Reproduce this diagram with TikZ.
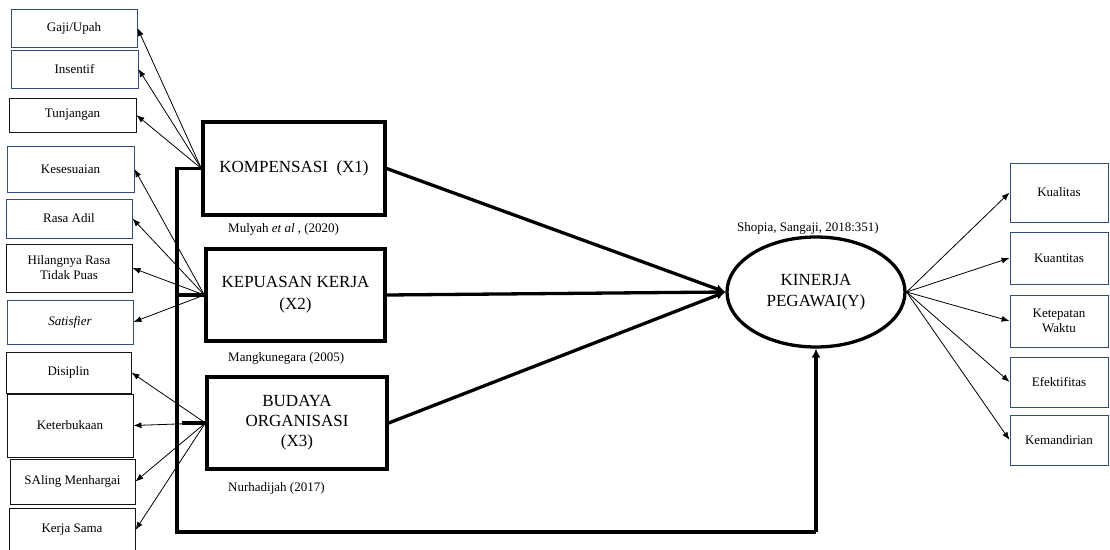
\documentclass[tikz,border=0pt]{standalone}
\usepackage{fontspec}
\setmainfont{Liberation Serif}
\usetikzlibrary{arrows.meta,shapes.geometric}
\definecolor{Navy}{RGB}{52,78,124}
\definecolor{Ink}{RGB}{20,20,20}
\tikzset{
  indik/.style={draw=Navy,line width=.9pt,fill=white,align=center,text=black,font=\fontsize{13}{15}\selectfont,inner sep=1pt},
  indikHitam/.style={indik,draw=Ink},
  konstruk/.style={draw=black,line width=3.3pt,fill=white,align=center,font=\fontsize{17}{20}\selectfont,inner sep=2pt},
  latent/.style={ellipse,draw=black,line width=3.3pt,fill=white,align=center,font=\fontsize{17}{21}\selectfont,inner sep=0pt},
  sumber/.style={font=\fontsize{13}{15}\selectfont,anchor=west,inner sep=0pt},
  panah/.style={-{Latex[length=8pt,width=6pt]},line width=.8pt,draw=black},
  tebal/.style={-{Latex[length=9pt,width=9pt]},line width=3.3pt,draw=black},
  garis/.style={line width=3.3pt,draw=black}
}
\begin{document}
\begin{tikzpicture}[x=1pt,y=-1pt]
  \useasboundingbox (0,0) rectangle (1110,549);
  % indikator kompensasi
  \node[indik,minimum width=126,minimum height=38] (gaji) at (74,28) {Gaji/Upah};
  \node[indik,minimum width=127,minimum height=38] (insentif) at (74.5,69) {Insentif};
  \node[indikHitam,minimum width=127,minimum height=34] (tunjangan) at (72.5,115) {Tunjangan};
  % indikator kepuasan kerja
  \node[indik,minimum width=127,minimum height=46] (sesuai) at (70.5,169) {Kesesuaian};
  \node[indik,minimum width=126,minimum height=39] (adil) at (69,218.5) {Rasa Adil};
  \node[indikHitam,minimum width=126,minimum height=48] (puas) at (69,268) {Hilangnya Rasa\\Tidak Puas};
  \node[indik,minimum width=126,minimum height=44] (satisfier) at (70,322) {\textit{Satisfier}};
  % indikator budaya organisasi
  \node[indikHitam,minimum width=125,minimum height=41] (disiplin) at (68.5,372.5) {Disiplin};
  \node[indikHitam,minimum width=126,minimum height=63] (terbuka) at (70,425.5) {Keterbukaan};
  \node[indikHitam,minimum width=125,minimum height=45] (hargai) at (72.5,481.5) {SAling Menhargai};
  \node[indikHitam,minimum width=126,minimum height=44] (kerjasama) at (72,530) {Kerja Sama};
  % konstruk
  \node[konstruk,minimum width=182,minimum height=93] (komp) at (294,168.5) {KOMPENSASI \ (X1)};
  \node[konstruk,minimum width=179,minimum height=92] (kepuasan) at (295.5,295) {KEPUASAN KERJA\\[2pt](X2)};
  \node[konstruk,minimum width=180,minimum height=92] (budaya) at (297,423) {BUDAYA\\ORGANISASI\\(X3)};
  \node[latent,minimum width=178,minimum height=110] (kinerja) at (816,292) {KINERJA\\PEGAWAI(Y)};
  \node[sumber] (s1) at (228,229) {Mulyah \textit{et al} , (2020)};
  \node[sumber] (s2) at (228,358) {Mangkunegara (2005)};
  \node[sumber] (s3) at (228,488) {Nurhadijah (2017)};
  \node[sumber] (s4) at (737,228) {Shopia, Sangaji, 2018:351)};
  % indikator kinerja
  \node[indik,minimum width=98,minimum height=59] (kualitas) at (1059,192.5) {Kualitas};
  \node[indik,minimum width=98,minimum height=52] (kuantitas) at (1059,258) {Kuantitas};
  \node[indik,minimum width=98,minimum height=52] (waktu) at (1059,321) {Ketepatan\\Waktu};
  \node[indik,minimum width=98,minimum height=50] (efektif) at (1059,382) {Efektifitas};
  \node[indik,minimum width=98,minimum height=50] (mandiri) at (1059,440) {Kemandirian};
  \foreach \n in {gaji,insentif,tunjangan}{\draw[panah] (komp.west)--(\n.east);}
  \foreach \n in {sesuai,adil,puas,satisfier}{\draw[panah] (kepuasan.west)--(\n.east);}
  \foreach \n in {disiplin,terbuka,hargai,kerjasama}{\draw[panah] (budaya.west)--(\n.east);}
  \foreach \n in {kualitas,kuantitas,waktu,efektif,mandiri}{\draw[panah] (kinerja.east)--(\n.west);}
  \foreach \n in {komp,kepuasan,budaya}{\draw[tebal] (\n.east)--(kinerja.west);}
  % jalur simultan
  \coordinate (atas) at (177,168.5);
  \coordinate (bawah) at (177,532);
  \draw[garis] (komp.west)--(atas)--(bawah)--(kinerja.south |- bawah);
  \draw[tebal] (kinerja.south |- bawah)--(kinerja.south);
  \draw[garis] (atas |- kepuasan.west)--(kepuasan.west);
  \draw[garis] ([xshift=5]atas |- budaya.west)--(budaya.west);
\end{tikzpicture}
\end{document}
